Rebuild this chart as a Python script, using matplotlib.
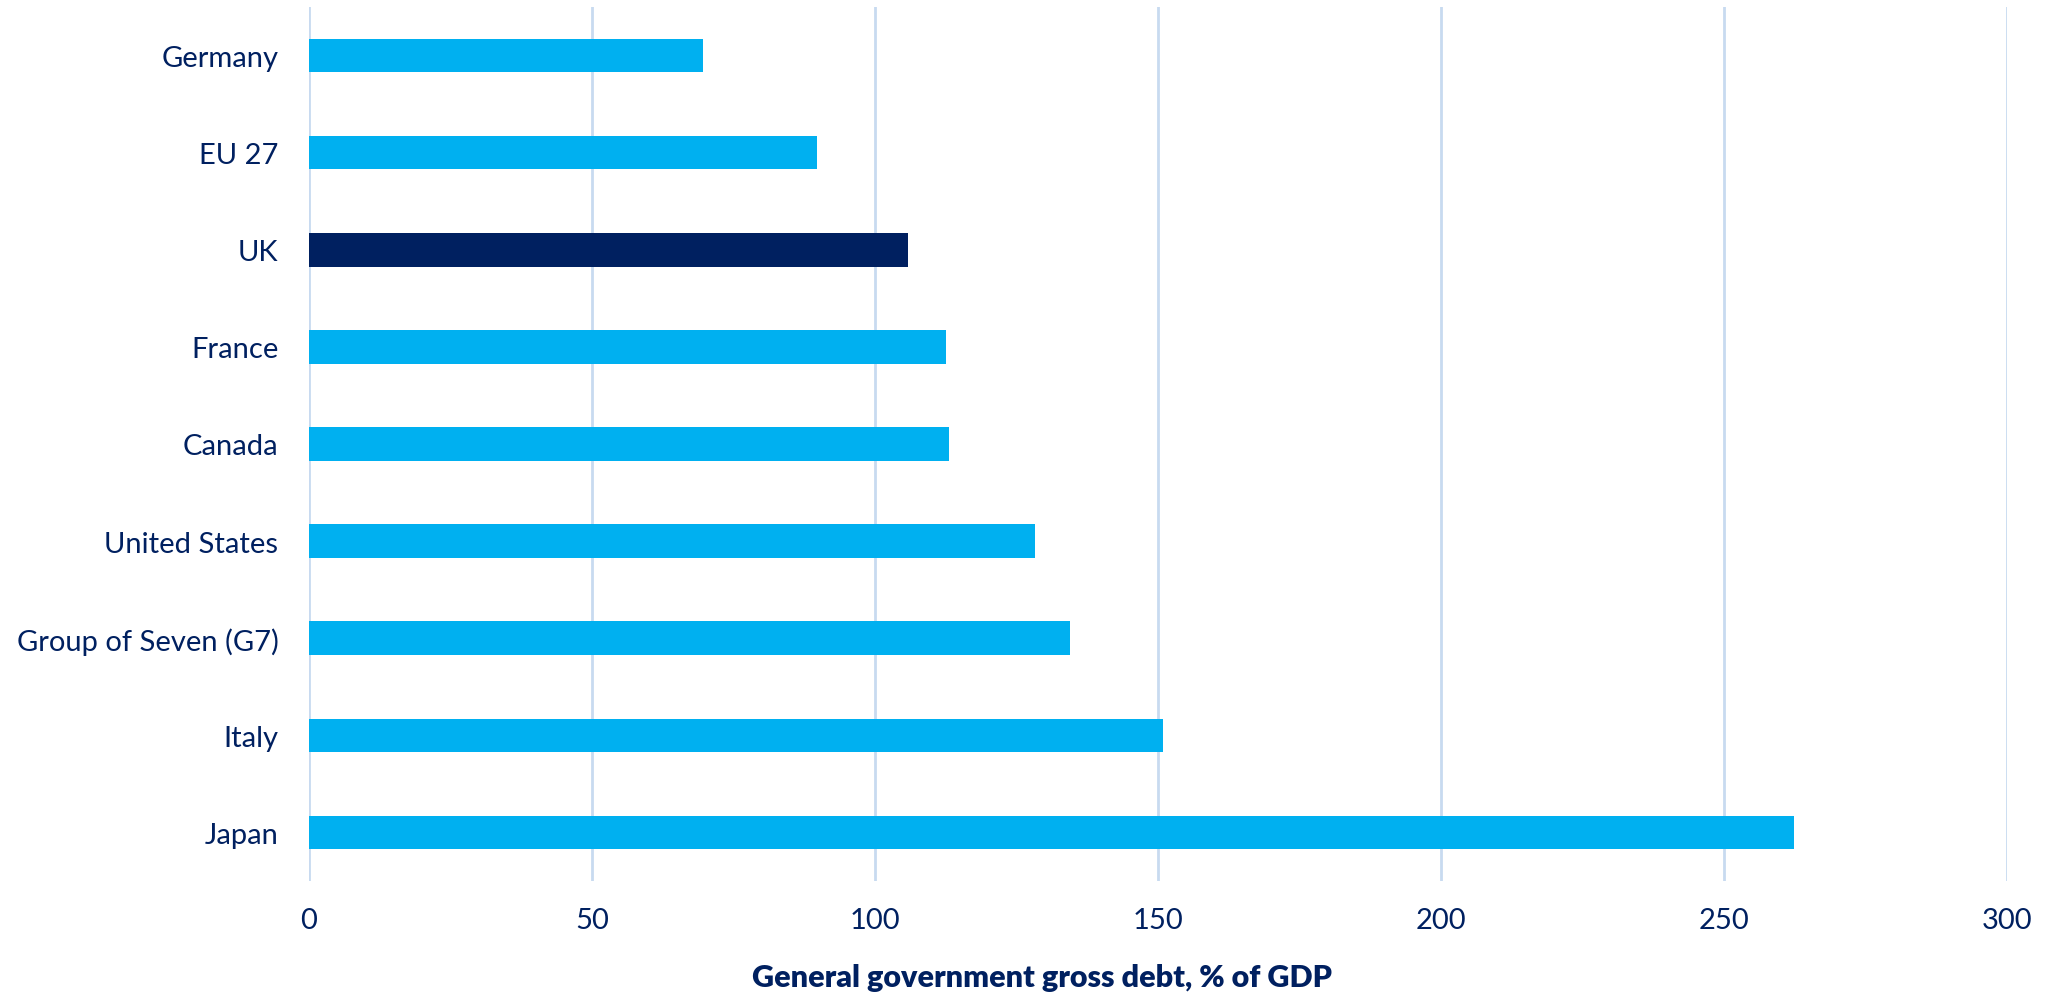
import numpy as np
import matplotlib
matplotlib.use("Agg")
from matplotlib import pyplot as plt

# values, top to bottom
countries = ["Germany", "EU 27", "UK", "France", "Canada", "United States",
             "Group of Seven (G7)", "Italy", "Japan"]
debt = [69.6, 89.7, 105.9, 112.5, 113.0, 128.2, 134.5, 150.8, 262.4]
highlight = "UK"
xticks = [0, 50, 100, 150, 200, 250, 300]
xlabel = "General government gross debt, % of GDP"

light = "#00B0F0"
navy = "#002060"
grid_c = "#C8DAF0"

plt.rcParams['font.family'] = ['Lato', 'DejaVu Sans']

fig = plt.figure(figsize=(20.55, 9.95), dpi=100)
ax = fig.add_axes([309/2055, 1 - 882/995, (2007-309)/2055, (882-8)/995])

y = np.arange(len(countries))
colors = [navy if c == highlight else light for c in countries]
ax.barh(y, debt, height=0.346, color=colors, zorder=3)

ax.set_xlim(0, 300)
ax.set_ylim(len(countries) - 0.5, -0.5)
ax.set_yticks(y)
ax.set_yticklabels(countries)
ax.set_xticks(xticks)
ax.set_xticklabels([str(t) for t in xticks])
ax.tick_params(axis='both', length=0, labelsize=21, colors=navy)
ax.tick_params(axis='y', pad=22)
ax.tick_params(axis='x', pad=19)
ax.grid(axis='x', color=grid_c, linewidth=2, zorder=0)
for s in ax.spines.values():
    s.set_visible(False)

fig.text(1042/2055, 1 - 978/995, xlabel, ha='center', va='center',
         fontsize=22, fontweight='heavy', color=navy)

fig.savefig("out.png", dpi=100)
